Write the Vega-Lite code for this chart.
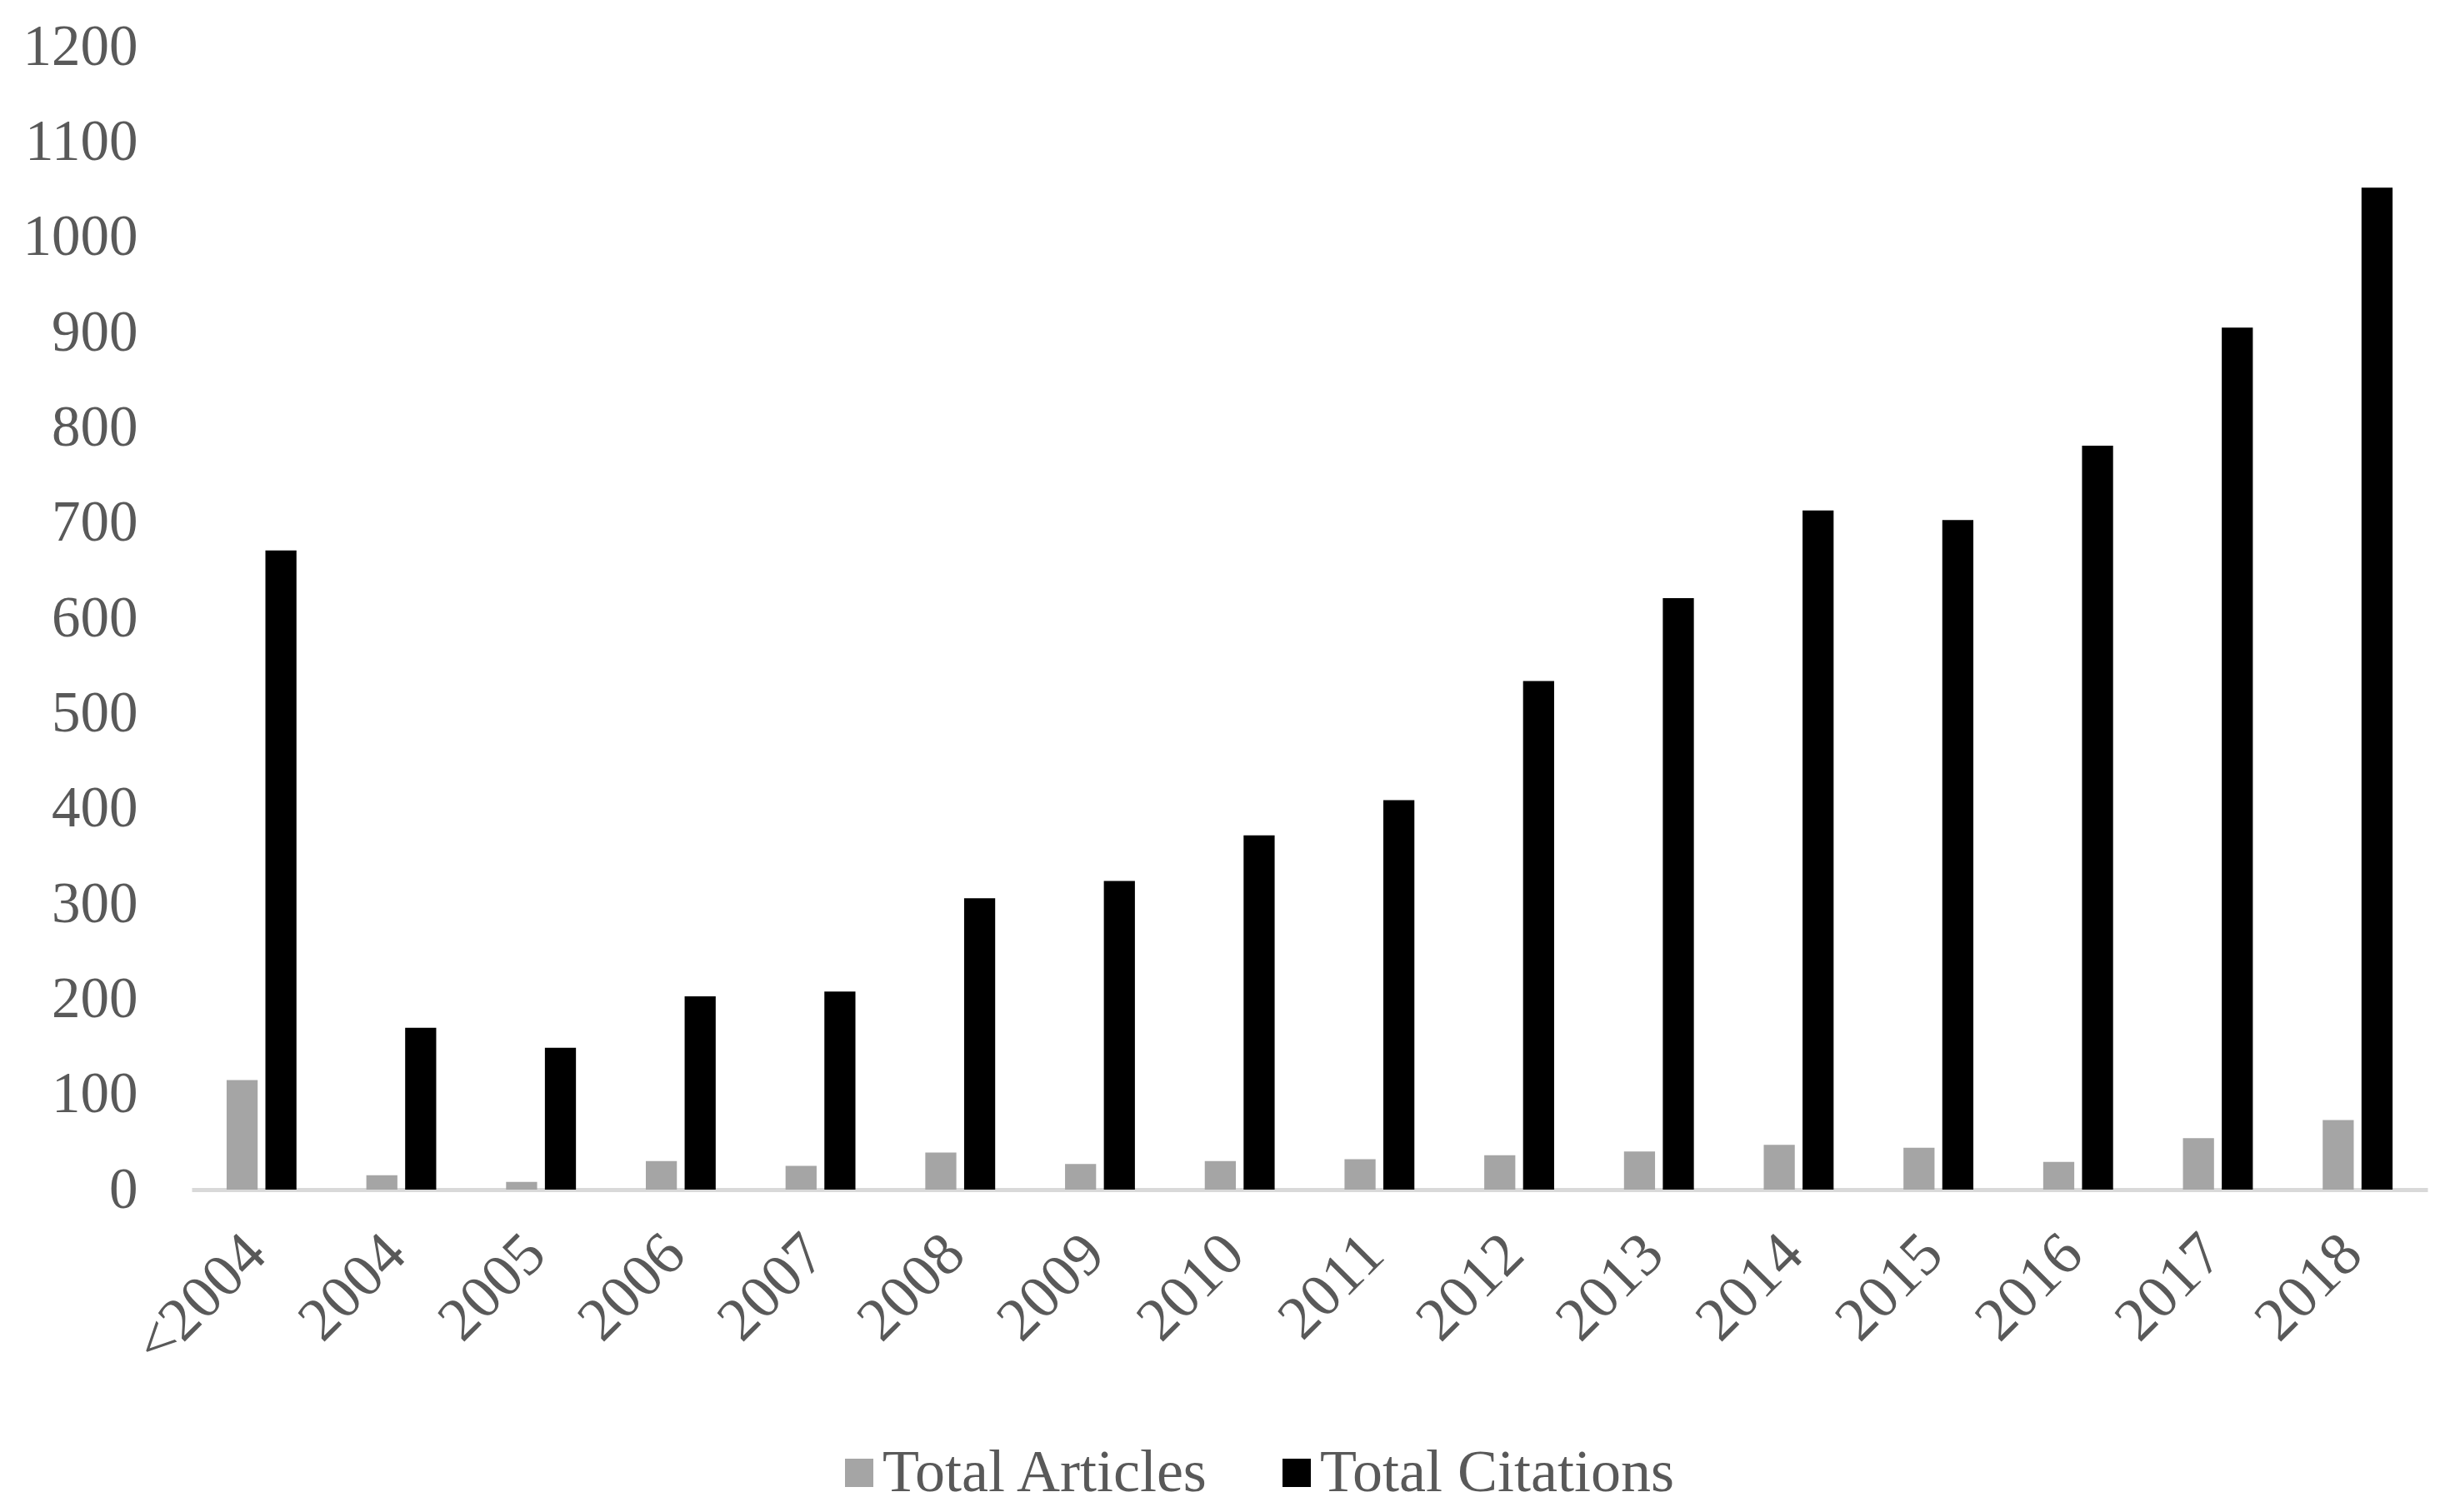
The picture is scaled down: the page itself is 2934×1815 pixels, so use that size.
{
  "$schema": "https://vega.github.io/schema/vega-lite/v6.json",
  "autosize": {"type": "none"},
  "padding": {"left": 230, "top": 56, "right": 21, "bottom": 387},
  "width": 2683,
  "height": 1372,
  "background": "white",
  "data": {
    "values": [
      {"year": "<2004", "series": "Total Articles", "value": 115},
      {"year": "<2004", "series": "Total Citations", "value": 671},
      {"year": "2004", "series": "Total Articles", "value": 15},
      {"year": "2004", "series": "Total Citations", "value": 170},
      {"year": "2005", "series": "Total Articles", "value": 8},
      {"year": "2005", "series": "Total Citations", "value": 149},
      {"year": "2006", "series": "Total Articles", "value": 30},
      {"year": "2006", "series": "Total Citations", "value": 203},
      {"year": "2007", "series": "Total Articles", "value": 25},
      {"year": "2007", "series": "Total Citations", "value": 208},
      {"year": "2008", "series": "Total Articles", "value": 39},
      {"year": "2008", "series": "Total Citations", "value": 306},
      {"year": "2009", "series": "Total Articles", "value": 27},
      {"year": "2009", "series": "Total Citations", "value": 324},
      {"year": "2010", "series": "Total Articles", "value": 30},
      {"year": "2010", "series": "Total Citations", "value": 372},
      {"year": "2011", "series": "Total Articles", "value": 32},
      {"year": "2011", "series": "Total Citations", "value": 409},
      {"year": "2012", "series": "Total Articles", "value": 36},
      {"year": "2012", "series": "Total Citations", "value": 534},
      {"year": "2013", "series": "Total Articles", "value": 40},
      {"year": "2013", "series": "Total Citations", "value": 621},
      {"year": "2014", "series": "Total Articles", "value": 47},
      {"year": "2014", "series": "Total Citations", "value": 713},
      {"year": "2015", "series": "Total Articles", "value": 44},
      {"year": "2015", "series": "Total Citations", "value": 703},
      {"year": "2016", "series": "Total Articles", "value": 29},
      {"year": "2016", "series": "Total Citations", "value": 781},
      {"year": "2017", "series": "Total Articles", "value": 54},
      {"year": "2017", "series": "Total Citations", "value": 905},
      {"year": "2018", "series": "Total Articles", "value": 73},
      {"year": "2018", "series": "Total Citations", "value": 1052}
    ]
  },
  "mark": {"type": "bar"},
  "encoding": {
    "x": {
      "field": "year",
      "type": "nominal",
      "sort": null,
      "scale": {"paddingInner": 0.5, "paddingOuter": 0.25},
      "axis": {
        "title": null,
        "labelAngle": -45,
        "labelFont": "Liberation Serif",
        "labelFontSize": 73,
        "labelColor": "#595959",
        "labelLimit": 0,
        "labelPadding": 40,
        "labelOffset": -32,
        "ticks": false,
        "domainColor": "#d9d9d9",
        "domainWidth": 5,
        "grid": false
      }
    },
    "xOffset": {
      "field": "series",
      "type": "nominal",
      "scale": {"paddingInner": 0.2, "paddingOuter": 0}
    },
    "y": {
      "field": "value",
      "type": "quantitative",
      "scale": {"domain": [0, 1200], "nice": false},
      "axis": {
        "title": null,
        "format": "d",
        "values": [0, 100, 200, 300, 400, 500, 600, 700, 800, 900, 1000, 1100, 1200],
        "labelFont": "Liberation Serif",
        "labelFontSize": 69,
        "labelColor": "#595959",
        "labelPadding": 65,
        "ticks": false,
        "domain": false,
        "grid": false
      }
    },
    "color": {
      "field": "series",
      "type": "nominal",
      "scale": {"domain": ["Total Articles", "Total Citations"], "range": ["#a5a5a5", "#000000"]},
      "legend": {
        "title": null,
        "orient": "none",
        "direction": "horizontal",
        "legendX": 765,
        "legendY": 1676,
        "symbolType": "square",
        "symbolSize": 1156,
        "symbolStrokeWidth": 0,
        "labelFont": "Liberation Serif",
        "labelFontSize": 72,
        "labelColor": "#595959",
        "labelLimit": 0,
        "labelOffset": -8,
        "columnPadding": 68
      }
    }
  },
  "config": {
    "view": {"stroke": null}
  }
}
